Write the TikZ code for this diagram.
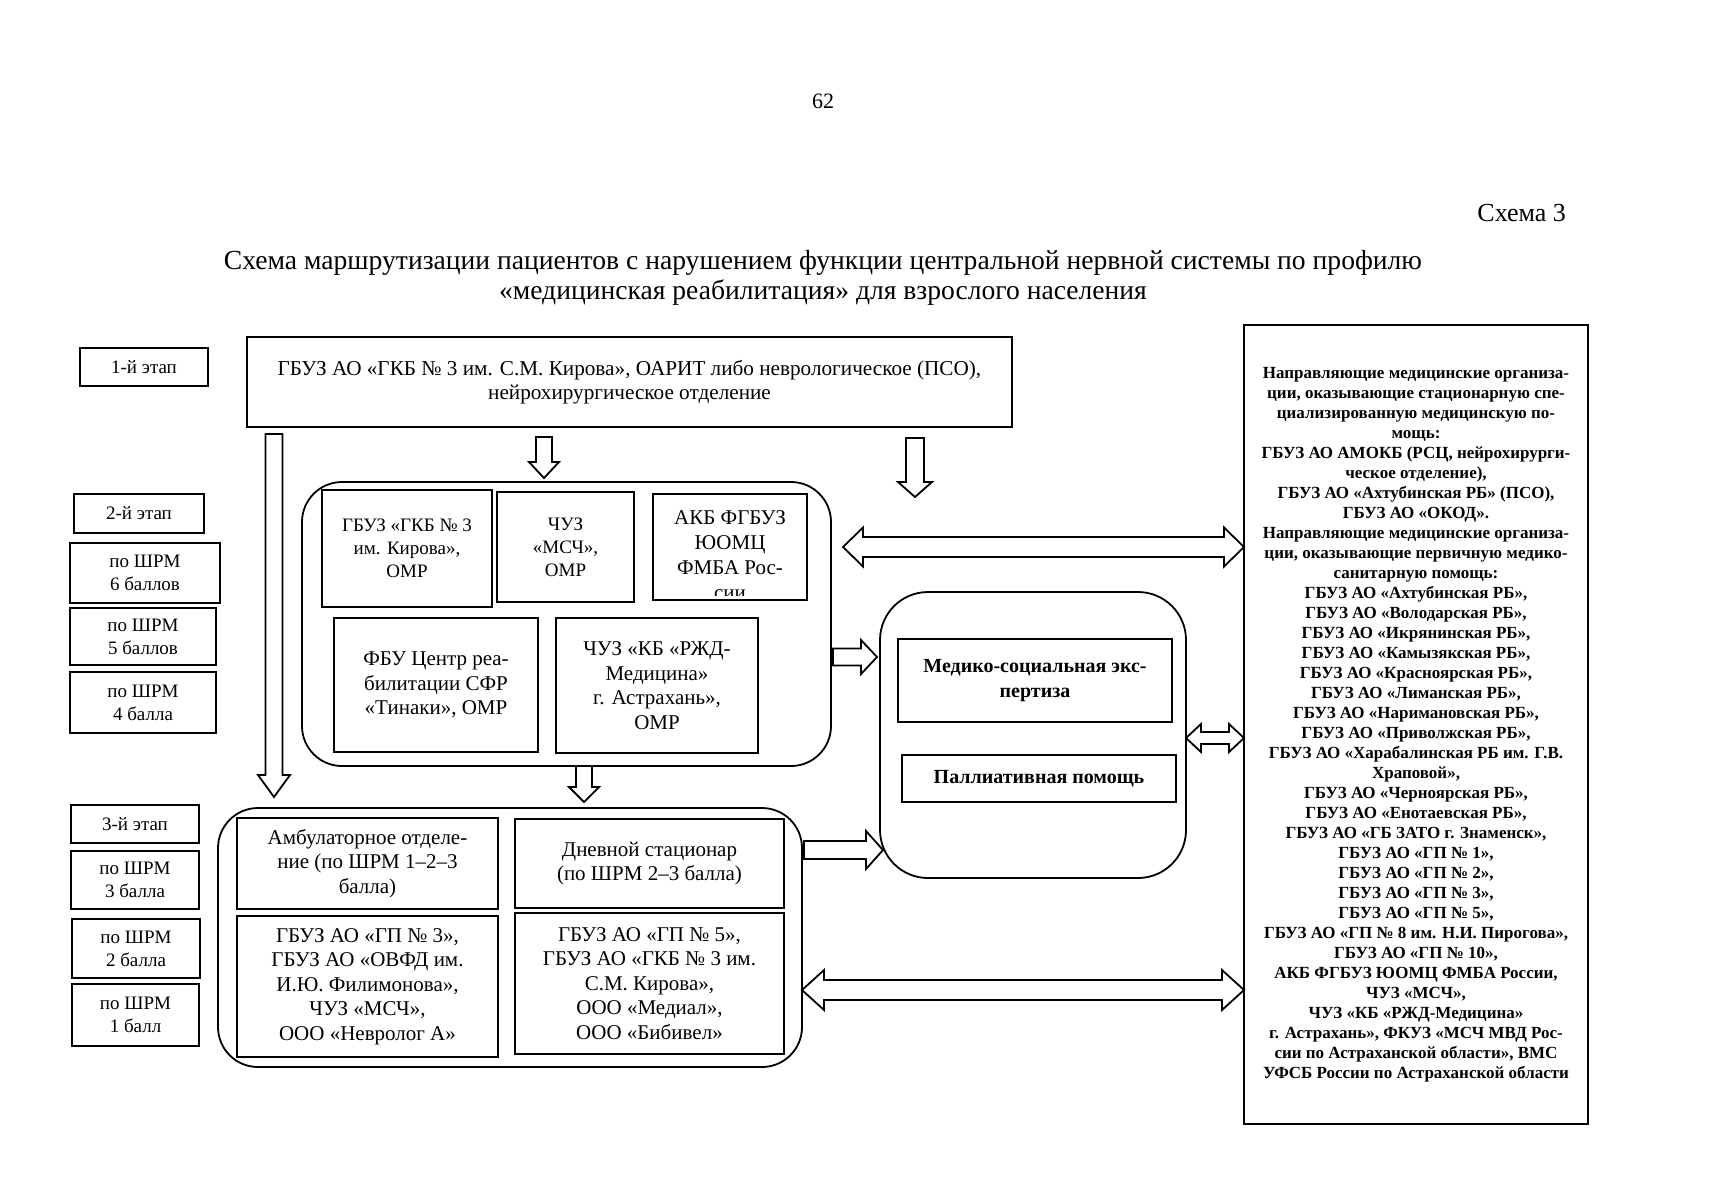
\documentclass[tikz,border=0pt]{standalone}
\usepackage{fontspec}
\setmainfont{Liberation Serif}
\tikzset{
  bx/.style={draw, line width=1.1pt, align=center, inner sep=0pt, fill=white},
  rbx/.style={draw, line width=0.9pt, rounded corners=20pt, inner sep=0pt},
  barrow/.style={draw, line width=0.9pt, line join=miter, fill=white},
  lbl/.style={bx, font=\fontsize{9.5}{11.5}\selectfont},
  txt/.style={font=\fontsize{10.5}{12.3}\selectfont},
}
\newcommand\dnarrow[6]{% x, ytop, ybot, shaft half, head half, head length
  \draw[barrow] ({#1-#4},#2) -- ({#1+#4},#2) -- ({#1+#4},{#3-#6}) -- ({#1+#5},{#3-#6}) -- (#1,#3) -- ({#1-#5},{#3-#6}) -- ({#1-#4},{#3-#6}) -- cycle;}
\newcommand\rtarrow[6]{% y, xleft, xright, shaft half, head half, head length
  \draw[barrow] (#2,{#1-#4}) -- ({#3-#6},{#1-#4}) -- ({#3-#6},{#1-#5}) -- (#3,#1) -- ({#3-#6},{#1+#5}) -- ({#3-#6},{#1+#4}) -- (#2,{#1+#4}) -- cycle;}
\newcommand\dblarrow[6]{% y, xleft, xright, shaft half, head half, head length
  \draw[barrow] (#2,#1) -- ({#2+#6},{#1-#5}) -- ({#2+#6},{#1-#4}) -- ({#3-#6},{#1-#4}) -- ({#3-#6},{#1-#5}) -- (#3,#1) -- ({#3-#6},{#1+#5}) -- ({#3-#6},{#1+#4}) -- ({#2+#6},{#1+#4}) -- ({#2+#6},{#1+#5}) -- cycle;}
\begin{document}
\begin{tikzpicture}[x=0.5pt,y=-0.5pt]
\fill[white] (0,0) rectangle (1716,1200);
\useasboundingbox (0,0) rectangle (1716,1200);

% header
\node[font=\fontsize{11}{13}\selectfont] (pg) at (823,101) {62};
\node[anchor=east, font=\fontsize{13}{15}\selectfont] (sch) at (1573,213) {Схема 3};
\node[align=center, font=\fontsize{13.8}{15.3}\selectfont] (title) at (823,278)
  {Схема маршрутизации пациентов с нарушением функции центральной нервной системы по профилю\\
   «медицинская реабилитация» для взрослого населения};

% left stage labels
\node[lbl, minimum width=64pt, minimum height=19pt] (L1) at (144,367) {1-й этап};
\node[lbl, minimum width=65pt, minimum height=19.5pt] (L2) at (139,513.5) {2-й этап};
\node[lbl, minimum width=75pt, minimum height=30pt] (L2a) at (145,573) {по ШРМ\\6 баллов};
\node[lbl, minimum width=73pt, minimum height=28.5pt] (L2b) at (143,636.5) {по ШРМ\\5 баллов};
\node[lbl, minimum width=73pt, minimum height=30.5pt] (L2c) at (143,702.5) {по ШРМ\\4 балла};
\node[lbl, minimum width=64pt, minimum height=19pt] (L3) at (135,824) {3-й этап};
\node[lbl, minimum width=64pt, minimum height=29pt] (L3a) at (135,880) {по ШРМ\\3 балла};
\node[lbl, minimum width=64pt, minimum height=29.5pt] (L3b) at (136,948.5) {по ШРМ\\2 балла};
\node[lbl, minimum width=63.5pt, minimum height=31pt] (L3c) at (135.5,1015) {по ШРМ\\1 балл};

% stage 1
\node[bx, minimum width=382.5pt, minimum height=45pt, font=\fontsize{10.6}{12}\selectfont] (T) at (629.5,382)
  {ГБУЗ АО «ГКБ № 3 им. С.М. Кирова», ОАРИТ либо неврологическое (ПСО),\\нейрохирургическое отделение};

% stage 2 group
\node[rbx, minimum width=264.5pt, minimum height=142pt] (S2) at (566.5,624) {};
\node[bx, minimum width=85pt, minimum height=58.5pt, font=\fontsize{9.5}{11.5}\selectfont] (A1) at (407,548.5) {ГБУЗ «ГКБ № 3\\им. Кирова»,\\ОМР};
\node[bx, minimum width=68.5pt, minimum height=55pt, font=\fontsize{9.5}{11.5}\selectfont] (A2) at (565.5,547) {ЧУЗ\\«МСЧ»,\\ОМР};
\node[bx, minimum width=77pt, minimum height=53pt] (A3) at (730,547) {};
\begin{scope}
  \clip (655,496) rectangle (805,595);
  \node[align=center, font=\fontsize{10.5}{12.5}\selectfont] (A3t) at (730,555) {АКБ ФГБУЗ\\ЮОМЦ\\ФМБА Рос-\\сии};
\end{scope}
\node[bx, txt, minimum width=102pt, minimum height=67pt] (B1) at (436,685) {ФБУ Центр реа-\\билитации СФР\\«Тинаки», ОМР};
\node[bx, txt, minimum width=101pt, minimum height=67.5pt] (B2) at (657,685.5) {ЧУЗ «КБ «РЖД-\\Медицина»\\г. Астрахань»,\\ОМР};

% MSE group
\node[rbx, rounded corners=24pt, minimum width=153pt, minimum height=143pt] (M) at (1033,735) {};
\node[bx, minimum width=137pt, minimum height=41.5pt, font=\bfseries\fontsize{10}{12.3}\selectfont] (M1) at (1035,680.5) {Медико-социальная экс-\\пертиза};
\node[bx, minimum width=137pt, minimum height=23.5pt, font=\bfseries\fontsize{10}{12.3}\selectfont] (M2) at (1039,778.5) {Паллиативная помощь};

% stage 3 group
\node[rbx, minimum width=292pt, minimum height=129.5pt] (S3) at (510,937.5) {};
\node[bx, txt, minimum width=130.5pt, minimum height=45.5pt] (C1) at (367.5,863.5) {Амбулаторное отделе-\\ние (по ШРМ 1–2–3\\балла)};
\node[bx, txt, minimum width=134.5pt, minimum height=44.5pt] (C2) at (649.5,863.5) {Дневной стационар\\(по ШРМ 2–3 балла)};
\node[bx, txt, minimum width=130.5pt, minimum height=70.5pt] (D1) at (367.5,986.5) {ГБУЗ АО «ГП № 3»,\\ГБУЗ АО «ОВФД им.\\И.Ю. Филимонова»,\\ЧУЗ «МСЧ»,\\ООО «Невролог А»};
\node[bx, txt, minimum width=134.5pt, minimum height=70.5pt] (D2) at (649.5,983.5) {ГБУЗ АО «ГП № 5»,\\ГБУЗ АО «ГКБ № 3 им.\\С.М. Кирова»,\\ООО «Медиал»,\\ООО «Бибивел»};

% right box
\node[bx, minimum width=172pt, minimum height=399.5pt, font=\bfseries\fontsize{8.5}{10}\selectfont] (R) at (1416,724.5)
 {Направляющие медицинские организа-\\
  ции, оказывающие стационарную спе-\\
  циализированную медицинскую по-\\
  мощь:\\
  ГБУЗ АО АМОКБ (РСЦ, нейрохирурги-\\
  ческое отделение),\\
  ГБУЗ АО «Ахтубинская РБ» (ПСО),\\
  ГБУЗ АО «ОКОД».\\
  Направляющие медицинские организа-\\
  ции, оказывающие первичную медико-\\
  санитарную помощь:\\
  ГБУЗ АО «Ахтубинская РБ»,\\
  ГБУЗ АО «Володарская РБ»,\\
  ГБУЗ АО «Икрянинская РБ»,\\
  ГБУЗ АО «Камызякская РБ»,\\
  ГБУЗ АО «Красноярская РБ»,\\
  ГБУЗ АО «Лиманская РБ»,\\
  ГБУЗ АО «Наримановская РБ»,\\
  ГБУЗ АО «Приволжская РБ»,\\
  ГБУЗ АО «Харабалинская РБ им. Г.В.\\
  Храповой»,\\
  ГБУЗ АО «Черноярская РБ»,\\
  ГБУЗ АО «Енотаевская РБ»,\\
  ГБУЗ АО «ГБ ЗАТО г. Знаменск»,\\
  ГБУЗ АО «ГП № 1»,\\
  ГБУЗ АО «ГП № 2»,\\
  ГБУЗ АО «ГП № 3»,\\
  ГБУЗ АО «ГП № 5»,\\
  ГБУЗ АО «ГП № 8 им. Н.И. Пирогова»,\\
  ГБУЗ АО «ГП № 10»,\\
  АКБ ФГБУЗ ЮОМЦ ФМБА России,\\
  ЧУЗ «МСЧ»,\\
  ЧУЗ «КБ «РЖД-Медицина»\\
  г. Астрахань», ФКУЗ «МСЧ МВД Рос-\\
  сии по Астраханской области», ВМС\\
  УФСБ России по Астраханской области};

% block arrows
\dnarrow{274}{434}{797}{8.5}{16}{22}
\dnarrow{544}{437}{478}{8}{15}{16}
\dnarrow{915}{438}{497}{9}{17}{15}
\dnarrow{584}{766}{802}{8}{15}{15}
\rtarrow{657}{833}{877}{8.5}{17}{16}
\rtarrow{850}{804}{883}{9}{19}{17}
\dblarrow{547}{843}{1244}{10}{19.5}{20}
\dblarrow{738}{1186}{1244}{6}{14}{15}
\dblarrow{990}{802}{1244}{10}{20}{22}
\end{tikzpicture}
\end{document}
